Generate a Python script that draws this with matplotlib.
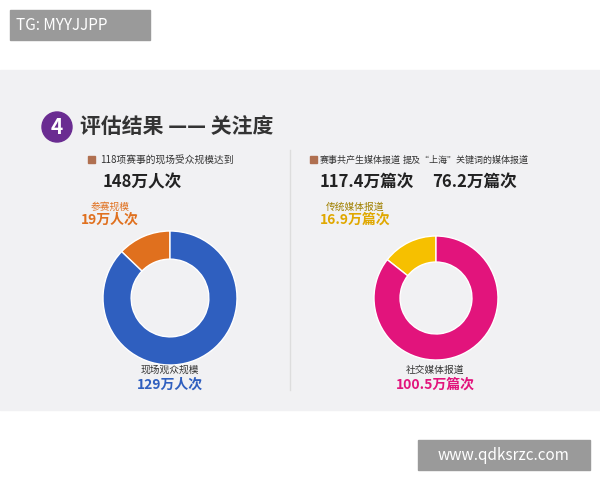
import matplotlib
matplotlib.use("Agg")
import matplotlib.pyplot as plt
from matplotlib.patches import Rectangle, Circle

plt.rcParams['font.family'] = ['Noto Sans CJK SC', 'DejaVu Sans']

labels1 = ["参赛规模", "现场观众规模"]
values1 = [19, 129]
colors1 = ["#e0701e", "#2f5fbf"]
labels2 = ["传统媒体报道", "社交媒体报道"]
values2 = [16.9, 100.5]
colors2 = ["#f6c000", "#e2147c"]

W, H = 600, 480
fig = plt.figure(figsize=(6, 4.8), dpi=100)
bg = fig.add_axes([0, 0, 1, 1])
bg.set_xlim(0, W); bg.set_ylim(H, 0); bg.axis('off')
bg.add_patch(Rectangle((0, 70), W, 340, color="#f1f1f3", zorder=0))
bg.add_patch(Rectangle((10, 10), 140, 30, color="#9a9a9a", zorder=1))
bg.text(16, 25, "TG: MYYJJPP", color="white", fontsize=11, va="center")
bg.add_patch(Rectangle((418, 440), 172, 30, color="#9a9a9a", zorder=1))
bg.text(504, 455, "www.qdksrzc.com", color="white", fontsize=11, va="center", ha="center")
bg.add_patch(Circle((57, 127), 15, color="#6a2c91"))
bg.text(57, 128, "4", color="white", fontsize=15, fontweight="bold", ha="center", va="center")
bg.text(80, 127, "评估结果 —— 关注度", color="#333333", fontsize=15, fontweight="bold", va="center")
bg.plot([290, 290], [150, 390], color="#dddddd", lw=1)

bg.add_patch(Rectangle((88, 156), 7, 7, color="#b07050"))
bg.text(100, 160, "118项赛事的现场受众规模达到", fontsize=7, color="#333333", va="center")
bg.text(103, 182, "148万人次", fontsize=12, fontweight="bold", color="#222222", va="center")
bg.add_patch(Rectangle((310, 156), 7, 7, color="#b07050"))
bg.text(320, 160, "赛事共产生媒体报道", fontsize=6.5, color="#333333", va="center")
bg.text(403, 160, "提及“上海”关键词的媒体报道", fontsize=6.5, color="#333333", va="center")
bg.text(320, 182, "117.4万篇次", fontsize=12, fontweight="bold", color="#222222", va="center")
bg.text(432, 182, "76.2万篇次", fontsize=12, fontweight="bold", color="#222222", va="center")

bg.text(110, 207, labels1[0], fontsize=7, color=colors1[0], ha="center", va="center")
bg.text(110, 220, f"{values1[0]}万人次", fontsize=10, fontweight="bold", color=colors1[0], ha="center", va="center")
bg.text(170, 370, labels1[1], fontsize=7, color="#333333", ha="center", va="center")
bg.text(170, 385, f"{values1[1]}万人次", fontsize=10, fontweight="bold", color=colors1[1], ha="center", va="center")
bg.text(355, 207, labels2[0], fontsize=7, color="#a08000", ha="center", va="center")
bg.text(355, 220, f"{values2[0]}万篇次", fontsize=10, fontweight="bold", color="#e0a800", ha="center", va="center")
bg.text(435, 370, labels2[1], fontsize=7, color="#333333", ha="center", va="center")
bg.text(435, 385, f"{values2[1]}万篇次", fontsize=10, fontweight="bold", color=colors2[1], ha="center", va="center")

def donut(cx, cy, r, vals, cols):
    ax = fig.add_axes([(cx - r) / W, 1 - (cy + r) / H, 2 * r / W, 2 * r / H])
    ax.pie(vals, colors=cols, startangle=90, counterclock=True,
           wedgeprops=dict(width=0.42, edgecolor="white", linewidth=1))
    ax.set_xlim(-1, 1); ax.set_ylim(-1, 1)
    ax.set_aspect('equal'); ax.axis('off')

donut(170, 298, 67, values1, colors1)
donut(436, 298, 62, values2, colors2)
fig.savefig("out.png", dpi=100)
